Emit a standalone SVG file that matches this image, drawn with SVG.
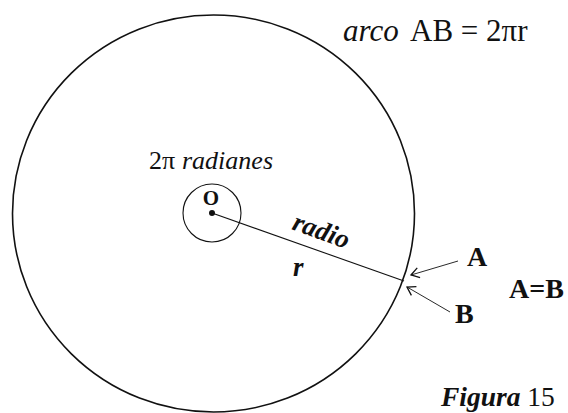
<svg xmlns="http://www.w3.org/2000/svg" width="568" height="413" viewBox="0 0 568 413">
<style>
.t{font-family:"Liberation Serif","Times New Roman",serif;fill:#111}
.ln{stroke:#111;fill:none}
.b{font-weight:bold}
.i{font-style:italic}
</style>
<defs>
<marker id="open" viewBox="0 0 10 12" refX="9" refY="6" markerWidth="10" markerHeight="12" orient="auto" markerUnits="userSpaceOnUse">
<path d="M1,1 L9,6 L1,11" fill="none" stroke="#111" stroke-width="1.3"/>
</marker>
</defs>
<rect width="568" height="413" fill="#fff"/>
<g id="big-circle"><ellipse cx="213.5" cy="213.5" rx="201" ry="198.5" class="ln" stroke-width="1.6"/></g>
<g id="small-circle"><circle cx="212" cy="213" r="29" class="ln" stroke-width="1.1"/></g>
<g id="center"><circle cx="212" cy="213" r="3" fill="#111"/>
<text class="t b" x="211" y="205" font-size="21" text-anchor="middle">O</text></g>
<g id="label-radianes"><text class="t" y="169" font-size="26"><tspan x="149">2π</tspan><tspan x="182" class="i">radianes</tspan></text></g>
<g id="label-arco"><text class="t" y="41" font-size="31"><tspan x="343" class="i">arco</tspan><tspan x="410">AB = 2πr</tspan></text></g>
<g id="connectors">
<line x1="212" y1="213" x2="404" y2="281" class="ln" stroke-width="1.1"/>
<line x1="458" y1="261" x2="411" y2="275" class="ln" stroke-width="0.9" marker-end="url(#open)"/>
<line x1="450" y1="312" x2="407" y2="287" class="ln" stroke-width="0.9" marker-end="url(#open)"/>
</g>
<g id="label-radio"><text class="t b i" transform="translate(291,229) rotate(20)" font-size="27">radio</text></g>
<g id="label-r"><text class="t b i" x="293" y="276" font-size="27">r</text></g>
<g id="point-A"><text class="t b" x="467" y="266" font-size="28">A</text></g>
<g id="point-B"><text class="t b" x="455" y="323" font-size="28">B</text></g>
<g id="label-AeqB"><text class="t b" x="509" y="298" font-size="28">A=B</text></g>
<g id="caption"><text class="t" x="441" y="406" font-size="27.5"><tspan class="b i">Figura</tspan><tspan> 15</tspan></text></g>
</svg>
